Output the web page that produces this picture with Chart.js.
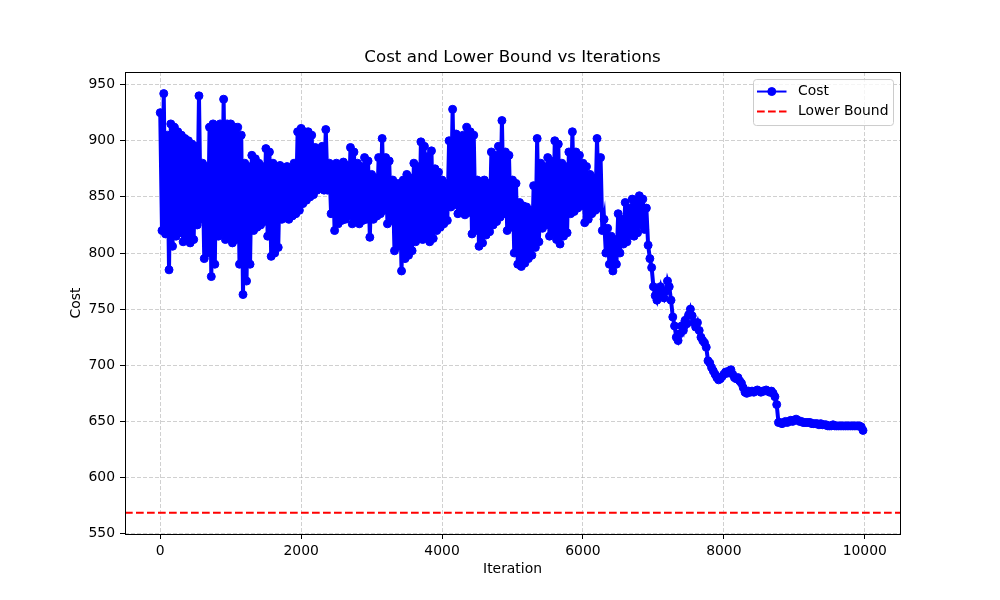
<!DOCTYPE html>
<html>
<head>
<meta charset="utf-8">
<title>Cost and Lower Bound vs Iterations</title>
<script src="https://cdn.jsdelivr.net/npm/chart.js@4"></script>
<style>
  html, body { margin: 0; padding: 0; background: #ffffff; }
  #wrap { width: 1000px; height: 600px; position: relative; }
</style>
</head>
<body>
<div id="wrap"><canvas id="chart"></canvas></div>
<script>
// ============================================
// Cost and Lower Bound vs Iterations
// ============================================

// Iteration spacing between the stored cost samples
var STEP = 25;

// Cost, one value per 25 iterations (0 .. 9975)
var COST = [
    925, 820, 942, 817,   905, 785, 915, 806,   912, 815, 908, 818,   905, 810, 902, 813,
    900, 809, 897, 812,   895, 825, 940, 830,   880, 795, 877, 800,   912, 779, 915, 790,
    912, 815, 915, 818,   937, 812, 915, 815,   915, 809, 912, 812,   912, 790, 905, 763,
    880, 775, 877, 790,   887, 820, 884, 823,   880, 825, 877, 828,   893, 815, 890, 797,
    880, 800, 877, 805,   878, 830, 875, 832,   877, 830, 874, 833,   880, 835, 908, 838,
    911, 844, 908, 847,   908, 850, 905, 852,   894, 856, 891, 858,   895, 856, 910, 856,
    880, 835, 877, 820,   880, 826, 877, 829,   881, 830, 878, 833,   894, 826, 890, 829,
    880, 826, 877, 829,   885, 830, 882, 814,   870, 830, 867, 833,   885, 835, 902, 838,
    885, 826, 882, 829,   865, 802, 862, 806,   862, 784, 865, 795,   870, 798, 867, 802,
    880, 810, 877, 813,   899, 812, 895, 815,   886, 810, 891, 813,   875, 820, 872, 823,
    865, 826, 862, 829,   900, 841, 928, 843,   906, 835, 903, 838,   905, 834, 912, 836,
    908, 817, 905, 820,   865, 806, 862, 809,   865, 816, 862, 819,   890, 825, 887, 828,
    895, 832, 918, 835,   890, 820, 887, 823,   865, 800, 862, 790,   845, 788, 842, 791,
    841, 795, 838, 798,   860, 805, 902, 810,   880, 822, 877, 825,   885, 815, 882, 818,
    900, 812, 897, 808,   880, 815, 877, 818,   890, 835, 908, 837,   890, 840, 887, 842,
    880, 827, 877, 830,   870, 835, 867, 838,   902, 840, 885, 820,   830, 800, 822, 790,
    815, 784, 812, 790,   835, 800, 830, 808,   845, 810, 840, 816,   848, 815, 846, 818,
    851, 825, 848, 821,   840, 807, 795, 787,   770, 762, 758, 765,   770, 763, 760, 766,
    775, 770, 758, 743,   735, 725, 722, 728,   735, 731, 740, 737,   745, 750, 744, 738,
    734, 738, 731, 725,   722, 720, 716, 704,   702, 698, 695, 692,   689, 687, 688, 690,
    692, 694, 693, 695,   696, 692, 689, 688,   689, 686, 684, 680,   676, 675, 677, 676,
    677, 676, 677, 678,   677, 676, 677, 677,   678, 677, 676, 677,   675, 672, 665, 649,
    649, 648, 649, 650,   649, 650, 651, 650,   651, 652, 651, 650,   650, 649, 649, 649,
    649, 649, 648, 648,   648, 648, 647, 648,   647, 647, 647, 646,   646, 646, 647, 646,
    646, 646, 646, 646,   646, 646, 646, 646,   646, 646, 646, 646,   646, 646, 645, 642
];

var LOWER_BOUND = 568.6;

var X_TICKS = [0, 2000, 4000, 6000, 8000, 10000];
var Y_TICKS = [550, 600, 650, 700, 750, 800, 850, 900, 950];

var X_MIN = -500, X_MAX = 10500;
var Y_MIN = 549.7, Y_MAX = 961.2;

var FONT = '"DejaVu Sans", sans-serif';

// --------------------------------------------------
//  Frame (all four spines) + legend box
// --------------------------------------------------
var framePlugin = {
    id: 'mplFrame',
    afterDatasetsDraw: function (chart) {
        var c = chart.ctx, a = chart.chartArea;
        c.save();
        c.strokeStyle = '#000000';
        c.lineWidth = 1;
        c.strokeRect(Math.round(a.left) + 0.5, Math.round(a.top) + 0.5,
            Math.round(a.right - a.left), Math.round(a.bottom - a.top));
        c.restore();
    },
    afterDraw: function (chart) {
        var c = chart.ctx, a = chart.chartArea;
        var bw = 140, bh = 46;
        var bx = a.right - 7 - bw, by = a.top + 7;
        c.save();
        c.beginPath();
        c.roundRect(bx + 0.5, by + 0.5, bw, bh, 3);
        c.fillStyle = 'rgba(255,255,255,0.8)';
        c.fill();
        c.strokeStyle = '#cccccc';
        c.lineWidth = 1;
        c.stroke();

        var y1 = by + 12.5, y2 = by + 32.5;
        var lx0 = bx + 4, lx1 = bx + 33.5;

        // Cost sample: line with marker
        c.strokeStyle = '#0000ff';
        c.lineWidth = 2;
        c.beginPath();
        c.moveTo(lx0, y1);
        c.lineTo(lx1, y1);
        c.stroke();
        c.beginPath();
        c.arc((lx0 + lx1) / 2, y1, 4, 0, Math.PI * 2);
        c.fillStyle = '#0000ff';
        c.fill();
        c.lineWidth = 1;
        c.stroke();

        // Lower Bound sample: dashed red
        c.strokeStyle = '#ff0000';
        c.lineWidth = 2;
        c.setLineDash([7.7, 3.3]);
        c.beginPath();
        c.moveTo(lx0, y2);
        c.lineTo(lx1, y2);
        c.stroke();
        c.setLineDash([]);

        c.fillStyle = '#000000';
        c.font = '13.9px ' + FONT;
        c.textBaseline = 'middle';
        c.textAlign = 'left';
        c.fillText('Cost', bx + 45, y1);
        c.fillText('Lower Bound', bx + 45, y2);
        c.restore();
    }
};

var costPoints = COST.map(function (v, i) { return { x: i * STEP, y: v }; });
var boundPoints = [{ x: X_MIN, y: LOWER_BOUND }, { x: X_MAX, y: LOWER_BOUND }];

var gridOpts = {
    color: 'rgba(176,176,176,0.6)',
    lineWidth: 1,
    drawTicks: true,
    tickLength: 5,
    tickColor: '#000000',
    tickWidth: 1,
    tickBorderDash: []
};

var ctx = document.getElementById('chart').getContext('2d');
new Chart(ctx, {
    type: 'line',
    data: {
        datasets: [
            {
                label: 'Cost',
                data: costPoints,
                borderColor: '#0000ff',
                backgroundColor: '#0000ff',
                // thicker than the legend sample so the sparse zig-zag fills like the dense original
                borderWidth: 4,
                pointRadius: 4,
                pointBorderWidth: 1,
                pointBackgroundColor: '#0000ff',
                pointBorderColor: '#0000ff',
                tension: 0,
                fill: false
            },
            {
                label: 'Lower Bound',
                data: boundPoints,
                borderColor: '#ff0000',
                borderWidth: 2,
                borderDash: [7.7, 3.3],
                pointRadius: 0,
                fill: false
            }
        ]
    },
    options: {
        responsive: true,
        maintainAspectRatio: false,
        animation: false,
        events: [],
        layout: { padding: { top: 0, right: 100, bottom: 0, left: 0 } },
        plugins: {
            legend: { display: false },
            tooltip: { enabled: false },
            title: {
                display: true,
                text: 'Cost and Lower Bound vs Iterations',
                fullSize: false,
                color: '#000000',
                font: { family: FONT, size: 16.7, weight: 'normal' },
                padding: { top: 48, bottom: 4 }
            }
        },
        scales: {
            x: {
                type: 'linear',
                min: X_MIN,
                max: X_MAX,
                afterFit: function (s) { s.height = 66; },
                afterBuildTicks: function (s) {
                    s.ticks = X_TICKS.map(function (v) { return { value: v }; });
                },
                ticks: {
                    color: '#000000',
                    padding: 4,
                    maxRotation: 0,
                    font: { family: FONT, size: 13.9 },
                    callback: function (v) { return String(v); }
                },
                grid: gridOpts,
                border: { display: false, dash: [4, 2] },
                title: {
                    display: true,
                    text: 'Iteration',
                    color: '#000000',
                    font: { family: FONT, size: 13.9 },
                    padding: { top: 0, bottom: 22.5 }
                }
            },
            y: {
                type: 'linear',
                min: Y_MIN,
                max: Y_MAX,
                afterFit: function (s) { s.width = 125; },
                afterBuildTicks: function (s) {
                    s.ticks = Y_TICKS.map(function (v) { return { value: v }; });
                },
                ticks: {
                    color: '#000000',
                    padding: 5,
                    font: { family: FONT, size: 13.9 },
                    callback: function (v) { return String(v); }
                },
                grid: gridOpts,
                border: { display: false, dash: [4, 2] },
                title: {
                    display: true,
                    text: 'Cost',
                    color: '#000000',
                    font: { family: FONT, size: 13.9 },
                    padding: { top: 68.5, bottom: 0 }
                }
            }
        }
    },
    plugins: [framePlugin]
});
</script>
</body>
</html>
